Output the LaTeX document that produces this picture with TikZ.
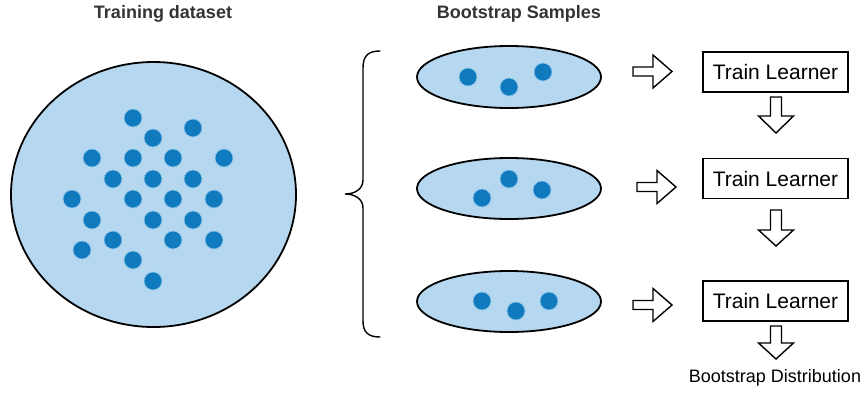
\documentclass[tikz,border=0pt]{standalone}
\usepackage{fontspec}
\setmainfont{Liberation Sans}
\definecolor{setfill}{RGB}{181,216,240}
\definecolor{dotblue}{RGB}{16,122,190}
\definecolor{dothalo}{RGB}{140,195,232}
\definecolor{titlegray}{RGB}{51,51,51}
\tikzset{
  setshape/.style={ellipse, draw=black, line width=1.8pt, fill=setfill, inner sep=0pt},
  datadot/.style={fill=dotblue, draw=dothalo, line width=0.7pt},
  titletext/.style={font=\fontsize{18}{20}\selectfont\bfseries, text=titlegray, inner sep=0pt},
  learnerbox/.style={draw=black, line width=1.4pt, minimum width=145pt, minimum height=40pt, inner sep=0pt, font=\fontsize{21}{24}\selectfont},
  hollowarrow/.style={draw=black, line width=1.4pt, fill=white, line join=miter},
  bracestyle/.style={draw=black, line width=1.4pt, line cap=round}
}
\usetikzlibrary{shapes.geometric}
\begin{document}
\begin{tikzpicture}[x=1pt,y=-1pt]
\useasboundingbox (0,0) rectangle (863,392);
% titles
\node[titletext] (t1) at (163,14) {Training dataset};
\node[titletext] (t2) at (519,14) {Bootstrap Samples};
% big training set
\node[setshape, minimum width=285pt, minimum height=265pt] (train) at (153.5,194.5) {};
\foreach \x/\y in {133/118,193/128,153/138,92/158,133/158,173/158,224/158,113/179,153/179,193/179,72/199,133/199,173/199,214/199,92/220,153/220,193/220,113/240,173/240,214/240,82/250,133/260,153/281}
  \path[datadot] (\x,\y) circle (9);
% bootstrap samples
\node[setshape, minimum width=184pt, minimum height=62pt] (s1) at (509,77) {};
\node[setshape, minimum width=184pt, minimum height=61pt] (s2) at (509,188.5) {};
\node[setshape, minimum width=184pt, minimum height=61pt] (s3) at (509,301.5) {};
\foreach \x/\y in {468/77,509/87,543/72, 509/179,482/198,542/190, 482/301,516/311,549/301}
  \path[datadot] (\x,\y) circle (9);
% brace
\draw[bracestyle] (380,51) .. controls (368,51) and (363,56) .. (363,68)
  -- (363,180) .. controls (363,189) and (355,194) .. (345,194)
  .. controls (355,194) and (363,199) .. (363,208)
  -- (363,321) .. controls (363,332) and (368,337) .. (380,337);
% learners
\node[learnerbox] (l1) at (775.5,72) {Train Learner};
\node[learnerbox] (l2) at (775.5,178.5) {Train Learner};
\node[learnerbox] (l3) at (775.5,301) {Train Learner};
\node[font=\fontsize{18}{20}\selectfont, inner sep=0pt] (dist) at (775,378) {Bootstrap Distribution};
% right hollow arrows
\foreach \x/\y in {633/71.5, 637/187, 633/305}
  \draw[hollowarrow] (\x,\y-4.5) -- (\x+20,\y-4.5) -- (\x+20,\y-16.5) -- (\x+39,\y) -- (\x+20,\y+16.5) -- (\x+20,\y+4.5) -- (\x,\y+4.5) -- cycle;
% down hollow arrows
\foreach \t/\h/\p in {97/116/133, 210/230/246, 326/343/359}
  \draw[hollowarrow] (770.5,\t) -- (781.5,\t) -- (781.5,\h) -- (793.5,\h) -- (776,\p) -- (758.5,\h) -- (770.5,\h) -- cycle;
\end{tikzpicture}
\end{document}
